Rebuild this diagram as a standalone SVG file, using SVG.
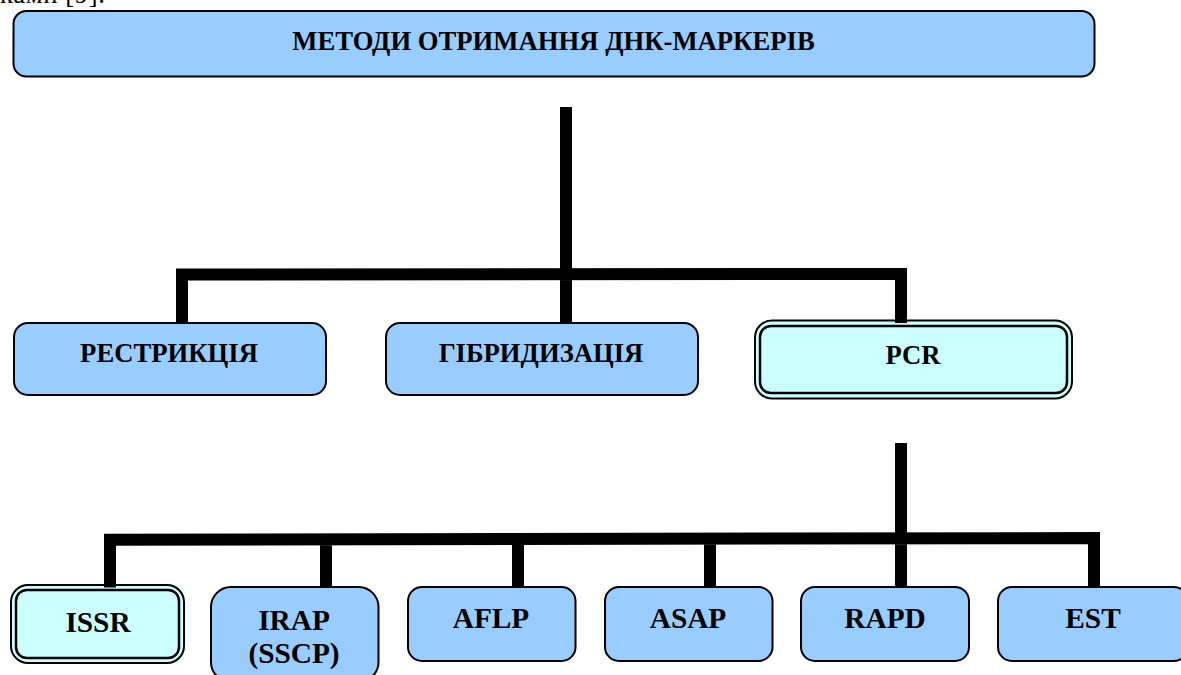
<svg xmlns="http://www.w3.org/2000/svg" width="1181" height="675" viewBox="0 0 1181 675">
<style>
text{font-family:"Liberation Serif","Times New Roman",serif;font-weight:bold;fill:#000;text-anchor:middle}
.t{font-size:26.67px}.s{font-size:29.33px}
.b{fill:#99ccff;stroke:#000;stroke-width:2}
.c{fill:#ccffff;stroke:#000;stroke-width:2.500}
.o{fill:#ccffff;stroke:#000;stroke-width:2}
.l{fill:none;stroke:#000;stroke-width:12}
</style>
<rect width="1181" height="675" fill="#fff"/>
<text x="105" y="3" style="font-size:26.67px;font-weight:normal;text-anchor:end" textLength="105">ками [9].</text>
<g id="root"><rect class="b" x="13.500" y="11" width="1081" height="65.500" rx="13"/><text class="t" x="553.500" y="50">МЕТОДИ ОТРИМАННЯ ДНК-МАРКЕРІВ</text></g>
<g id="restriction"><rect class="b" x="14" y="323" width="312" height="72" rx="14"/><text class="t" x="169" y="362">РЕСТРИКЦІЯ</text></g>
<g id="hybridization"><rect class="b" x="386" y="323" width="312" height="72" rx="14"/><text class="t" x="541" y="362">ГІБРИДИЗАЦІЯ</text></g>
<g id="pcr"><rect class="o" x="755" y="320.500" width="317" height="78" rx="17"/><rect class="c" x="760" y="326" width="307" height="67" rx="11"/><text class="t" x="913" y="364">PCR</text></g>
<g id="issr"><rect class="o" x="11" y="585" width="173" height="78" rx="17"/><rect class="c" x="16" y="590" width="163" height="68" rx="11"/><text class="s" x="98" y="632">ISSR</text></g>
<g id="irap"><rect class="b" x="211" y="587" width="167.500" height="95" rx="20"/><text class="s" x="294" y="630">IRAP</text><text class="s" x="294" y="663">(SSCP)</text></g>
<g id="aflp"><rect class="b" x="408" y="587" width="167.500" height="74" rx="14"/><text class="s" x="491" y="628">AFLP</text></g>
<g id="asap"><rect class="b" x="605" y="587" width="167.500" height="74" rx="14"/><text class="s" x="688" y="628">ASAP</text></g>
<g id="rapd"><rect class="b" x="801" y="587" width="168" height="74" rx="14"/><text class="s" x="885" y="628">RAPD</text></g>
<g id="est"><rect class="b" x="998" y="587" width="190" height="74" rx="14"/><text class="s" x="1093" y="628">EST</text></g>
<g id="connectors">
<path class="l" d="M566 107V323M182 323V274.500L901 274V323"/>
<path class="l" d="M901 443V587M110 587.500V539.700L1094 538V587M326 587V539.500M518 587V539.200M710 587V539"/>
</g>
</svg>
